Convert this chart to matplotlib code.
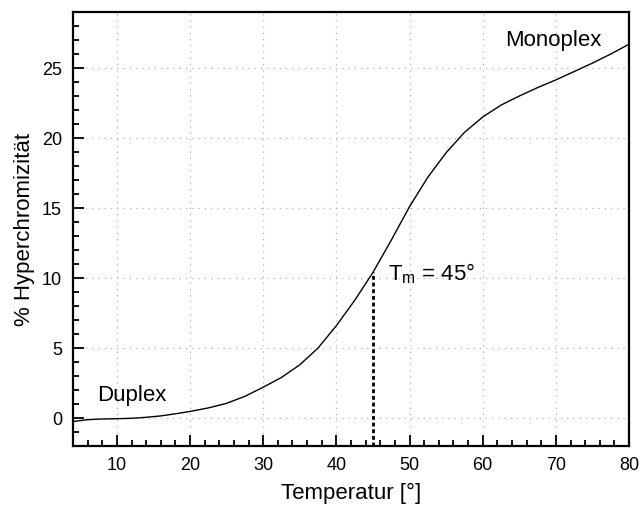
import numpy as np
import matplotlib
matplotlib.use("Agg")
import matplotlib.pyplot as plt
from matplotlib.ticker import MultipleLocator

plt.rcParams['font.family'] = ['Liberation Sans', 'DejaVu Sans']

# Schmelzkurve
temperatur = [4, 6, 8, 10, 12, 14, 16, 18, 20, 22.5, 25, 27.5, 30, 32.5,
              35, 37.5, 40, 42.5, 45, 47.5, 50, 52.5, 55, 57.5, 60, 62.5,
              65, 67.5, 70, 72.5, 75, 77.5, 80]
hyperchrom = [-0.25, -0.12, -0.07, -0.05, -0.02, 0.05, 0.15, 0.3, 0.47,
              0.72, 1.05, 1.55, 2.2, 2.9, 3.8, 5.0, 6.6, 8.4, 10.4,
              12.7, 15.1, 17.2, 18.95, 20.4, 21.5, 22.35, 23.0, 23.6,
              24.15, 24.75, 25.35, 26.0, 26.7]
tm = 45
tm_wert = 10.4

fig = plt.figure(figsize=(6.42, 5.07), dpi=100)
ax = fig.add_axes([0.1137, 0.1203, 0.8661, 0.856])

ax.plot(temperatur, hyperchrom, color='black', lw=1.0, zorder=3)
ax.plot([tm, tm], [-2, tm_wert], color='black', lw=2.0,
        linestyle=(0, (1.4, 1.0)), zorder=3)

ax.set_xlim(4, 80)
ax.set_ylim(-2, 29)

ax.xaxis.set_major_locator(MultipleLocator(10))
ax.xaxis.set_minor_locator(MultipleLocator(2))
ax.yaxis.set_major_locator(MultipleLocator(5))
ax.yaxis.set_minor_locator(MultipleLocator(1))

ax.tick_params(which='both', direction='in', top=False, right=False,
               labelsize=13, width=1.3, pad=8)
ax.tick_params(which='major', length=8)
ax.tick_params(which='minor', length=4)

for s in ax.spines.values():
    s.set_linewidth(1.6)

ax.grid(True, which='major', color='#b5b5b5', lw=0.9, linestyle=(0, (1, 4)))
ax.set_axisbelow(True)

ax.set_xlabel('Temperatur [°]', fontsize=16, labelpad=6)
ax.set_ylabel('% Hyperchromizität', fontsize=16, labelpad=5)

ax.text(7.3, 1.6, 'Duplex', fontsize=16, va='center', ha='left')
ax.text(63.0, 27.0, 'Monoplex', fontsize=16, va='center', ha='left')
ax.text(47.1, 10.3, r'T$_\mathregular{m}$ = 45°', fontsize=16,
        va='center', ha='left')

fig.savefig('out.png', dpi=100)
